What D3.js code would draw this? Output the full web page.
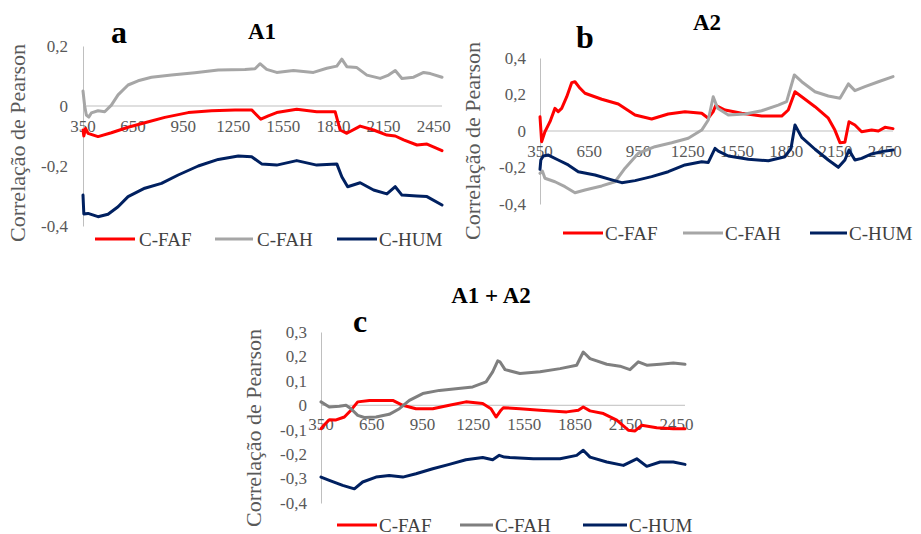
<!DOCTYPE html>
<html>
<head>
<meta charset="utf-8">
<script src="https://cdn.jsdelivr.net/npm/d3@7"></script>
<style>
html,body{margin:0;padding:0;background:#fff;}
svg{display:block;}
</style>
</head>
<body>
<svg id="chart" width="921" height="534" font-family="'Liberation Serif', 'DejaVu Serif', 'Times New Roman', serif"></svg>
<script>
// ---------- DATA ----------
const seriesNames = ["C-FAF", "C-FAH", "C-HUM"];
const xTicks = [350, 650, 950, 1250, 1550, 1850, 2150, 2450];
const xDomain = [350, 2500];

const yTicksA1 = [0.2, 0, -0.2, -0.4];
const yTicksA2 = [0.4, 0.2, 0, -0.2, -0.4];
const yTicksC = [0.3, 0.2, 0.1, 0, -0.1, -0.2, -0.3, -0.4];

// Panel a (A1) : [wavelength, r]
const A1_FAF = [[350,-0.08],[355,-0.1],[365,-0.075],[380,-0.091],[440,-0.102],[520,-0.089],[620,-0.071],[720,-0.056],[840,-0.038],[980,-0.022],[1120,-0.016],[1260,-0.013],[1360,-0.013],[1415,-0.044],[1460,-0.033],[1510,-0.022],[1630,-0.011],[1750,-0.019],[1860,-0.019],[1890,-0.08],[1930,-0.091],[2010,-0.067],[2090,-0.08],[2170,-0.097],[2220,-0.1],[2270,-0.113],[2350,-0.13],[2410,-0.127],[2500,-0.149]];
const A1_FAH = [[350,0.05],[360,0.0],[370,-0.03],[385,-0.037],[400,-0.023],[440,-0.016],[480,-0.019],[520,0.003],[560,0.037],[620,0.07],[680,0.084],[760,0.096],[880,0.103],[1020,0.111],[1160,0.12],[1320,0.122],[1380,0.124],[1410,0.141],[1450,0.122],[1510,0.112],[1610,0.118],[1730,0.112],[1810,0.126],[1870,0.133],[1900,0.156],[1930,0.131],[1990,0.128],[2050,0.103],[2130,0.092],[2180,0.103],[2220,0.118],[2260,0.092],[2330,0.096],[2390,0.112],[2430,0.108],[2500,0.096]];
const A1_HUM = [[350,-0.297],[355,-0.36],[380,-0.358],[440,-0.369],[500,-0.361],[560,-0.336],[620,-0.302],[720,-0.274],[820,-0.258],[920,-0.23],[1040,-0.2],[1160,-0.178],[1280,-0.167],[1360,-0.169],[1420,-0.193],[1510,-0.197],[1630,-0.182],[1750,-0.197],[1870,-0.193],[1900,-0.236],[1935,-0.269],[2010,-0.256],[2090,-0.28],[2170,-0.293],[2220,-0.269],[2260,-0.297],[2350,-0.3],[2410,-0.302],[2500,-0.33]];

// Panel b (A2)
const A2_FAF = [[350,0.078],[360,-0.059],[380,-0.004],[411,0.051],[441,0.124],[461,0.106],[482,0.124],[513,0.188],[543,0.265],[563,0.27],[594,0.234],[624,0.207],[726,0.174],[827,0.148],[929,0.088],[1030,0.066],[1131,0.093],[1233,0.106],[1335,0.097],[1375,0.07],[1405,0.106],[1420,0.14],[1477,0.115],[1578,0.097],[1700,0.082],[1822,0.082],[1862,0.115],[1903,0.215],[1944,0.188],[2025,0.133],[2106,0.07],[2146,0.005],[2177,-0.064],[2207,-0.062],[2232,0.051],[2268,0.033],[2309,-0.004],[2370,0.005],[2411,0],[2451,0.02],[2500,0.013]];
const A2_FAH = [[350,-0.232],[365,-0.22],[380,-0.259],[441,-0.278],[502,-0.305],[563,-0.338],[624,-0.323],[726,-0.301],[807,-0.278],[868,-0.204],[949,-0.122],[1050,-0.086],[1152,-0.064],[1253,-0.04],[1335,0.005],[1375,0.06],[1405,0.188],[1432,0.125],[1497,0.088],[1599,0.093],[1700,0.111],[1801,0.142],[1852,0.161],[1899,0.307],[1944,0.27],[2025,0.215],[2106,0.192],[2177,0.179],[2228,0.258],[2268,0.221],[2329,0.243],[2411,0.27],[2500,0.298]];
const A2_HUM = [[350,-0.21],[355,-0.159],[370,-0.137],[401,-0.132],[461,-0.159],[522,-0.186],[583,-0.223],[685,-0.241],[787,-0.268],[848,-0.283],[929,-0.272],[1030,-0.25],[1131,-0.223],[1233,-0.186],[1335,-0.168],[1375,-0.172],[1416,-0.095],[1436,-0.11],[1497,-0.137],[1619,-0.155],[1741,-0.163],[1842,-0.141],[1879,-0.095],[1903,0.033],[1944,-0.035],[2025,-0.1],[2106,-0.159],[2167,-0.199],[2207,-0.159],[2232,-0.104],[2268,-0.159],[2309,-0.15],[2370,-0.126],[2431,-0.113],[2500,-0.104]];

// Panel c (A1 + A2)
const C_FAF = [[350,-0.096],[370,-0.08],[399,-0.059],[439,-0.06],[488,-0.048],[527,-0.02],[567,0.014],[636,0.02],[714,0.02],[774,0.02],[833,0],[911,-0.014],[1010,-0.014],[1108,0],[1206,0.014],[1305,0.007],[1354,-0.014],[1384,-0.048],[1413,-0.02],[1427,-0.01],[1525,-0.014],[1644,-0.02],[1801,-0.027],[1870,-0.02],[1899,-0.007],[1939,-0.023],[2018,-0.034],[2097,-0.061],[2165,-0.102],[2205,-0.105],[2244,-0.082],[2333,-0.092],[2431,-0.096],[2500,-0.096]];
const C_FAH = [[350,0.014],[399,-0.007],[458,-0.004],[498,0],[527,-0.014],[567,-0.041],[606,-0.05],[675,-0.048],[753,-0.037],[813,-0.014],[872,0.02],[951,0.048],[1049,0.061],[1147,0.068],[1246,0.075],[1325,0.096],[1364,0.137],[1394,0.182],[1407,0.178],[1437,0.146],[1525,0.13],[1644,0.137],[1762,0.15],[1860,0.164],[1899,0.218],[1939,0.191],[2038,0.168],[2116,0.16],[2175,0.146],[2224,0.178],[2274,0.164],[2353,0.168],[2431,0.173],[2500,0.168]];
const C_HUM = [[350,-0.294],[399,-0.307],[478,-0.328],[547,-0.342],[596,-0.314],[675,-0.294],[753,-0.287],[833,-0.294],[911,-0.28],[1010,-0.26],[1108,-0.242],[1206,-0.223],[1305,-0.214],[1364,-0.223],[1403,-0.205],[1433,-0.212],[1466,-0.214],[1604,-0.219],[1762,-0.219],[1860,-0.205],[1899,-0.184],[1939,-0.212],[2038,-0.232],[2136,-0.246],[2215,-0.219],[2274,-0.25],[2353,-0.232],[2431,-0.232],[2500,-0.242]];

// ---------- LAYOUT ----------
const FONT = "'Liberation Serif', 'DejaVu Serif', 'Times New Roman', serif";
const panels = [
  {title:"A1", letter:"a", series:[A1_FAF,A1_FAH,A1_HUM], colors:["#ff0000","#a6a6a6","#002060"],
   yDom:[-0.4,0.2], yTicks:yTicksA1, xr:[83,442], yr:[226,46],
   titleX:262, titleY:39, letterX:119, letterY:43, yLabX:17, yLabY:143,
   xLabY:131.5, yLabRight:68, legY:239, leg:[[95,135,139],[215,253,257],[337,377,379]]},
  {title:"A2", letter:"b", series:[A2_FAF,A2_FAH,A2_HUM], colors:["#ff0000","#a6a6a6","#002060"],
   yDom:[-0.4,0.4], yTicks:yTicksA2, xr:[540,893], yr:[204,58],
   titleX:707, titleY:30, letterX:585, letterY:48, yLabX:472, yLabY:141,
   xLabY:156.5, yLabRight:526, legY:233, leg:[[563,603,605],[683,723,725],[810,847,849]]},
  {title:"A1 + A2", letter:"c", series:[C_FAF,C_FAH,C_HUM], colors:["#ff0000","#7f7f7f","#002060"],
   yDom:[-0.4,0.3], yTicks:yTicksC, xr:[321,685], yr:[503,332],
   titleX:491, titleY:303, letterX:360, letterY:332, yLabX:253, yLabY:428,
   xLabY:430, yLabRight:307, legY:525, leg:[[337,377,379],[460,493,495],[583,627,629]]}
];

const svg = d3.select("#chart");
const fmt = v => (Math.abs(v) < 1e-9 ? "0" : d3.format(".1f")(v).replace(".", ",").replace("−","-"));

panels.forEach(p => {
  const g = svg.append("g").attr("font-family", FONT);
  const x = d3.scaleLinear().domain(xDomain).range(p.xr);
  const y = d3.scaleLinear().domain(p.yDom).range(p.yr);

  // zero gridline
  g.append("line").attr("x1", p.xr[0]).attr("x2", p.xr[1])
    .attr("y1", y(0)).attr("y2", y(0))
    .attr("stroke", "#bfbfbf").attr("stroke-width", 1);

  // vertical axis line
  const yAxis = d3.axisLeft(y).tickValues(p.yTicks).tickSize(0).tickFormat("");
  const ya = g.append("g").attr("transform", `translate(${p.xr[0]},0)`).call(yAxis);
  ya.attr("font-family", FONT);
  ya.select(".domain").attr("stroke", "#bfbfbf").attr("stroke-width", 1);

  // y tick labels
  g.selectAll(".ytl").data(p.yTicks).enter().append("text")
    .attr("font-family", FONT)
    .attr("x", p.yLabRight).attr("y", d => y(d) + 5.8)
    .attr("text-anchor", "end").attr("font-size", 17).attr("fill", "#595959")
    .text(d => fmt(d));

  // x tick labels (axis crosses at 0)
  g.selectAll(".xtl").data(xTicks).enter().append("text")
    .attr("font-family", FONT)
    .attr("x", d => x(d)).attr("y", p.xLabY)
    .attr("text-anchor", "middle").attr("font-size", 17).attr("fill", "#595959")
    .text(d => d);

  // series lines
  const line = d3.line().x(d => x(d[0])).y(d => y(d[1])).curve(d3.curveLinear);
  p.series.forEach((s, i) => {
    g.append("path").datum(s).attr("d", line)
      .attr("fill", "none").attr("stroke", p.colors[i]).attr("stroke-width", 3)
      .attr("stroke-linejoin", "round").attr("stroke-linecap", "round");
  });

  // titles
  g.append("text").attr("font-family", FONT).attr("x", p.titleX).attr("y", p.titleY).attr("text-anchor", "middle")
    .attr("font-size", 23).attr("font-weight", "bold").attr("fill", "#000").text(p.title);
  g.append("text").attr("font-family", FONT).attr("x", p.letterX).attr("y", p.letterY).attr("text-anchor", "middle")
    .attr("font-size", 32).attr("font-weight", "bold").attr("fill", "#000").text(p.letter);

  // y axis title
  g.append("text").attr("font-family", FONT).attr("transform", `translate(${p.yLabX},${p.yLabY}) rotate(-90)`)
    .attr("text-anchor", "middle").attr("dominant-baseline", "central")
    .attr("font-size", 22).attr("fill", "#595959").text("Correlação de Pearson");

  // legend
  p.leg.forEach((L, i) => {
    g.append("line").attr("x1", L[0]).attr("x2", L[1]).attr("y1", p.legY).attr("y2", p.legY)
      .attr("stroke", p.colors[i]).attr("stroke-width", 3);
    g.append("text").attr("font-family", FONT).attr("x", L[2]).attr("y", p.legY + 6.5).attr("font-size", 19)
      .attr("fill", "#404040").text(seriesNames[i]);
  });
});
</script>
</body>
</html>
